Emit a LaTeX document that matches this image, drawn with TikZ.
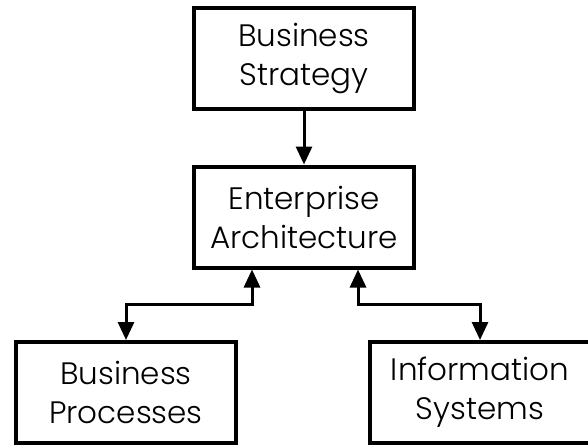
\documentclass[tikz,border=0pt]{standalone}
\usepackage{fontspec}
\setmainfont{Poppins}[UprightFont=* Light]
\usetikzlibrary{arrows.meta}

\begin{document}
\begin{tikzpicture}
[x=1pt,y=-1pt,%
  boxNode/.style={shape=rectangle,draw,line width=4pt,minimum width=220pt,
    minimum height=101pt,align=center,font=\fontsize{31}{39}\selectfont},%
  arrowLine/.style={line width=3pt,-{Triangle[length=18pt,width=16pt]}},%
  twoWay/.style={line width=3pt,{Triangle[length=18pt,width=16pt]}-{Triangle[length=18pt,width=16pt]}}]
\useasboundingbox (0,0) rectangle (588,445);
%% boxes
\foreach \nodename/\x/\y/\txt in {strategy/304/58/{Business\\Strategy},
  ea/304/217/{Enterprise\\Architecture},
  processes/126/392.5/{Business\\Processes},
  systems/480/392.5/{Information\\Systems}}
{
  \node (\nodename) at (\x,\y) [boxNode] {\txt};
}
%% connectors
\draw[arrowLine] (strategy) -- (ea);
\draw[twoWay] ([xshift=-52pt]ea.south) -- ++(0,35) -| (processes.north);
\draw[twoWay] ([xshift=54pt]ea.south) -- ++(0,35) -| (systems.north);
\end{tikzpicture}
\end{document}
